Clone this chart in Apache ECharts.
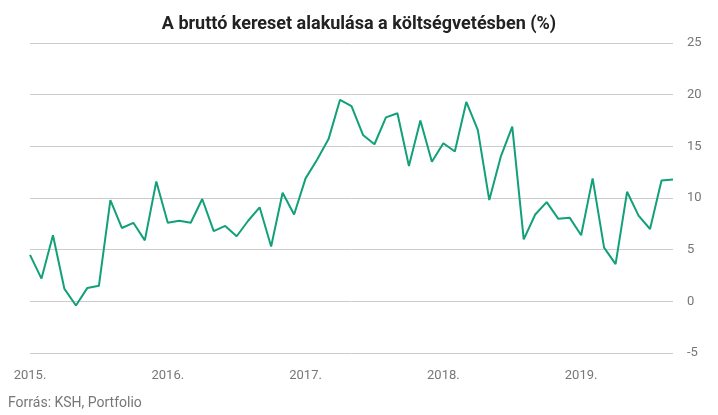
<!DOCTYPE html>
<html><head><meta charset="utf-8">
<script src="https://cdn.jsdelivr.net/npm/echarts@6/dist/echarts.min.js"></script>
<style>html,body{margin:0;padding:0;background:#fff}#c{width:718px;height:415px}</style>
</head><body><div id="c"></div>
<script>
const years = ['2015.','2016.','2017.','2018.','2019.'];
const months = [];
years.forEach(y => { for (let m = 1; m <= 12; m++) months.push(y + m); });
const values = [
  4.5, 2.2, 6.4, 1.2, -0.4, 1.3, 1.5, 9.8, 7.1, 7.6, 5.9, 11.6,
  7.6, 7.8, 7.6, 9.9, 6.8, 7.3, 6.3, 7.8, 9.1, 5.3, 10.5, 8.4,
  11.9, 13.7, 15.7, 19.5, 18.9, 16.1, 15.2, 17.8, 18.2, 13.1, 17.5, 13.5,
  15.3, 14.5, 19.3, 16.6, 9.8, 14.0, 16.9, 6.0, 8.4, 9.6, 8.0, 8.1,
  6.4, 11.9, 5.2, 3.6, 10.6, 8.3, 7.0, 11.7, 11.8
];
const cats = months.slice(0, values.length);
const chart = echarts.init(document.getElementById('c'));
chart.setOption({
  animation: false,
  title: { text: 'A bruttó kereset alakulása a költségvetésben (%)', left: 'center', top: 10,
    textStyle: { fontFamily: 'Roboto', fontSize: 18, fontWeight: 'bold', color: '#222' } },
  graphic: [{ type: 'text', left: 8, top: 396, style: { text: 'Forrás: KSH, Portfolio', fill: '#777', font: '14px Roboto' } }],
  grid: { left: 30, right: 45, top: 43, bottom: 62 },
  xAxis: { type: 'category', data: cats, boundaryGap: false,
    axisLine: { show: false }, axisTick: { show: false },
    axisLabel: { interval: (i) => i % 12 === 0, formatter: (v) => v.slice(0, 5),
      color: '#777', fontFamily: 'Roboto', fontSize: 13, margin: 16 } },
  yAxis: { type: 'value', position: 'right', min: -5, max: 25, interval: 5,
    axisLine: { show: false }, axisTick: { show: false },
    splitLine: { lineStyle: { color: '#ccc' } },
    axisLabel: { color: '#777', fontFamily: 'Roboto', fontSize: 13, margin: 14 } },
  series: [{ type: 'line', data: values, showSymbol: false,
    lineStyle: { color: '#12a079', width: 2 } }]
});
</script></body></html>
